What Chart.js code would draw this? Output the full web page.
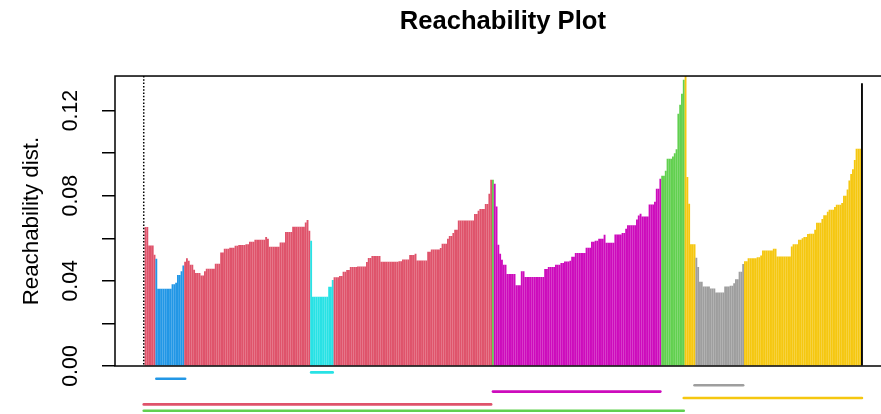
<!DOCTYPE html>
<html>
<head>
<meta charset="utf-8">
<script src="https://cdn.jsdelivr.net/npm/chart.js@4.4.0/dist/chart.umd.min.js"></script>
<style>
    html, body { margin: 0; padding: 0; overflow: hidden; background: #fff; }
    canvas { display: block; }
</style>
</head>
<body>
<canvas id="reachCanvas" width="895" height="414"></canvas>
<script>
// reachability distance in OPTICS order, first point is Inf (null)
let reachDist = [
    null, .0651, .0651, .0565, .0565, .0565, .0521, .0502, .0361, .0361,
    .0361, .0361, .0361, .0361, .0361, .0361, .0383, .0383, .0390, .0426,
    .0426, .0443, .0471, .0488, .0504, .0493, .0474, .0474, .0451, .0435,
    .0435, .0435, .0423, .0423, .0443, .0455, .0455, .0455, .0455, .0455,
    .0479, .0479, .0479, .0531, .0531, .0549, .0549, .0549, .0554, .0554,
    .0554, .0563, .0563, .0567, .0567, .0567, .0567, .0570, .0570, .0582,
    .0582, .0582, .0592, .0592, .0592, .0592, .0592, .0592, .0604, .0596,
    .0559, .0559, .0559, .0559, .0559, .0559, .0579, .0579, .0579, .0628,
    .0628, .0628, .0628, .0653, .0653, .0653, .0653, .0653, .0653, .0653,
    .0673, .0684, .0634, .0587, .0324, .0324, .0324, .0324, .0324, .0324,
    .0324, .0324, .0324, .0371, .0371, .0402, .0415, .0415, .0415, .0421,
    .0421, .0441, .0441, .0449, .0449, .0463, .0463, .0463, .0463, .0466,
    .0466, .0466, .0466, .0466, .0487, .0506, .0506, .0515, .0515, .0515,
    .0515, .0515, .0488, .0488, .0488, .0488, .0488, .0488, .0488, .0488,
    .0488, .0488, .0491, .0491, .0499, .0499, .0499, .0499, .0520, .0520,
    .0520, .0526, .0494, .0494, .0494, .0494, .0494, .0494, .0535, .0535,
    .0546, .0546, .0546, .0546, .0546, .0553, .0573, .0573, .0573, .0596,
    .0609, .0609, .0623, .0638, .0638, .0682, .0682, .0682, .0682, .0682,
    .0682, .0682, .0682, .0682, .0712, .0712, .0728, .0736, .0736, .0736,
    .0759, .0759, .0808, .0873, .0873, .0854, .0748, .0568, .0526, .0498,
    .0474, .0474, .0430, .0430, .0430, .0430, .0430, .0378, .0378, .0378,
    .0444, .0444, .0416, .0416, .0416, .0416, .0416, .0416, .0416, .0416,
    .0416, .0416, .0416, .0454, .0454, .0464, .0464, .0464, .0464, .0474,
    .0474, .0474, .0482, .0482, .0489, .0489, .0489, .0493, .0511, .0511,
    .0529, .0529, .0529, .0529, .0529, .0529, .0554, .0554, .0554, .0582,
    .0582, .0587, .0587, .0596, .0596, .0596, .0615, .0577, .0577, .0577,
    .0577, .0577, .0616, .0616, .0616, .0616, .0623, .0623, .0643, .0659,
    .0659, .0659, .0659, .0659, .0687, .0705, .0714, .0701, .0701, .0701,
    .0701, .0757, .0757, .0757, .0770, .0831, .0831, .0878, .0892, .0892,
    .0915, .0972, .0972, .0972, .0983, .0998, .1017, .1183, .1225, .1277,
    .1343, .1362, .0886, .0761, .0570, .0570, .0570, .0507, .0463, .0394,
    .0394, .0372, .0372, .0372, .0372, .0362, .0362, .0362, .0344, .0344,
    .0344, .0344, .0344, .0372, .0372, .0372, .0375, .0375, .0387, .0406,
    .0406, .0441, .0441, .0478, .0491, .0491, .0504, .0504, .0504, .0504,
    .0504, .0509, .0509, .0518, .0541, .0541, .0541, .0541, .0541, .0541,
    .0549, .0549, .0513, .0513, .0513, .0513, .0513, .0513, .0513, .0513,
    .0560, .0570, .0570, .0570, .0592, .0592, .0599, .0604, .0604, .0618,
    .0620, .0620, .0620, .0638, .0671, .0671, .0671, .0689, .0706, .0706,
    .0723, .0732, .0732, .0732, .0745, .0756, .0756, .0756, .0764, .0798,
    .0798, .0828, .0870, .0900, .0923, .0966, .1019, .1019, .1019, .1327
];

// bar colour runs: first index, last index, cluster colour
let groupStart = [1, 7, 23, 93, 106, 194, 195, 288, 301, 307, 334, 399];
let groupEnd = [6, 22, 92, 105, 193, 194, 287, 300, 306, 333, 398, 399];
let groupColor = ['red', 'blue', 'red', 'cyan', 'red', 'green', 'magenta', 'green', 'yellow', 'gray', 'yellow', 'black'];

// xi clusters, smallest first (drawn as lines under the plot)
let clusterStart = [93, 7, 306, 194, 300, 0, 0];
let clusterEnd = [105, 23, 333, 287, 399, 193, 300];
let clusterColor = ['cyan', 'blue', 'gray', 'magenta', 'yellow', 'red', 'green'];

let yLabels = ['0.00', '0.04', '0.08', '0.12'];

let palette = {
    black: '#000000', red: '#DF536B', green: '#61D04F', blue: '#2297E6',
    cyan: '#28E2E5', magenta: '#CD0BBC', yellow: '#F5C710', gray: '#9E9E9E'
};

window.onload = function () {
    reachPlotDraw();
};

let barColors = function () {
    let colors = reachDist.map(function () { return palette.black; });
    groupStart.forEach(function (s, k) {
        for (let i = s; i <= groupEnd[k]; i++) colors[i] = palette[groupColor[k]];
    });
    return colors;
};

let reachDecor = {
    id: 'reachDecor',
    afterDraw: function (chart) {
        let c = chart.ctx;
        let area = chart.chartArea;
        let xs = chart.scales.x;
        let ys = chart.scales.y;
        c.save();

        // box
        c.strokeStyle = '#000';
        c.lineWidth = 1.5;
        c.strokeRect(area.left, area.top, area.right - area.left, area.bottom - area.top);

        // infinite reachability -> dotted line
        c.lineWidth = 1.5;
        c.setLineDash([1.5, 1.8]);
        reachDist.forEach(function (v, i) {
            if (v !== null) return;
            let px = xs.getPixelForValue(i);
            c.beginPath();
            c.moveTo(px, area.top);
            c.lineTo(px, area.bottom);
            c.stroke();
        });
        c.setLineDash([]);

        // cluster lines below the bars
        let yMax = ys.max;
        let yInc = (yMax / 0.85 * 0.15) / (clusterStart.length + 1);
        c.lineWidth = 2.6;
        c.lineCap = 'round';
        clusterStart.forEach(function (s, k) {
            let py = ys.getPixelForValue(-yInc * (k + 1));
            c.strokeStyle = palette[clusterColor[k]];
            c.beginPath();
            c.moveTo(xs.getPixelForValue(s), py);
            c.lineTo(xs.getPixelForValue(clusterEnd[k]), py);
            c.stroke();
        });
        c.restore();
    }
};

let reachPlotDraw = function () {
    let ctx = document.getElementById('reachCanvas').getContext('2d');
    let n = reachDist.length;
    let yMax = Math.max.apply(null, reachDist.filter(function (v) { return v !== null; }));
    let xPad = (n - 1) * 0.04;

    window.reachChart = new Chart(ctx, {
        type: 'bar',
        data: {
            datasets: [{
                data: reachDist.map(function (v, i) { return { x: i, y: v }; }),
                backgroundColor: barColors(),
                barThickness: 1.2,
                borderWidth: 0
            }]
        },
        options: {
            responsive: false,
            animation: false,
            events: [],
            layout: { padding: { left: 0, right: 4.3, top: 0, bottom: 48 } },
            plugins: {
                legend: { display: false },
                tooltip: { enabled: false },
                title: {
                    display: true,
                    text: 'Reachability Plot',
                    fullSize: false,
                    color: '#000',
                    font: { family: 'Liberation Sans, Arial, sans-serif', size: 25.6, weight: 'bold' },
                    padding: { top: 6.6, bottom: 38.7 }
                }
            },
            scales: {
                x: { type: 'linear', min: -xPad, max: n - 1 + xPad, offset: false, display: false },
                y: {
                    min: 0,
                    max: yMax,
                    afterFit: function (scale) { scale.width = 115; },
                    border: { display: false },
                    grid: { drawOnChartArea: false, drawTicks: true, tickLength: 13, color: '#000', lineWidth: 1.5 },
                    ticks: {
                        stepSize: 0.02,
                        includeBounds: false,
                        autoSkip: false,
                        minRotation: 90,
                        maxRotation: 90,
                        crossAlign: 'center',
                        padding: 10,
                        color: '#000',
                        font: { family: 'Liberation Sans, Arial, sans-serif', size: 21.3 },
                        callback: function (value) {
                            let s = value.toFixed(2);
                            return yLabels.indexOf(s) >= 0 ? s : '';
                        }
                    },
                    title: {
                        display: true,
                        text: 'Reachability dist.',
                        color: '#000',
                        font: { family: 'Liberation Sans, Arial, sans-serif', size: 22.3 },
                        padding: { top: 18, bottom: 0 }
                    }
                }
            }
        },
        plugins: [reachDecor]
    });
};
</script>
</body>
</html>
